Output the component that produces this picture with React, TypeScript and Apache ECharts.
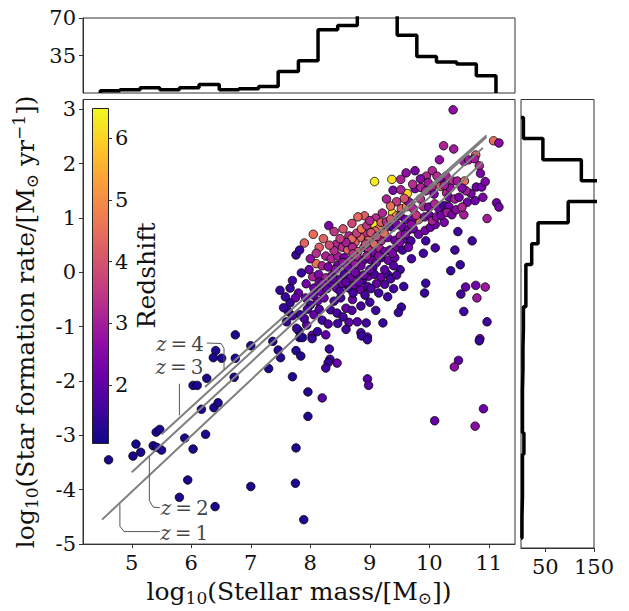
import React, { useEffect, useRef } from 'react';
import * as echarts from 'echarts';

const massTicks = [5, 6, 7, 8, 9, 10, 11];
const sfrTicks = [-5, -4, -3, -2, -1, 0, 1, 2, 3];
const redshiftTicks = [2, 3, 4, 5, 6];
const topHistTicks = [35, 70];
const sideHistTicks = [50, 150];

const massBinEdges = [4.47, 4.8, 5.14, 5.47, 5.8, 6.13, 6.47, 6.8, 7.13, 7.46, 7.8, 8.13, 8.46, 8.79, 9.13, 9.46, 9.79, 10.12, 10.46, 10.79, 11.12];
const massCounts = [2, 3, 5, 3, 5, 8, 3, 4, 6, 20, 30, 59, 63, 92, 105, 54, 34, 29, 27, 16];

const sfrBinEdges = [2.85, 2.47, 2.08, 1.7, 1.32, 0.93, 0.55, 0.17, -0.22, -0.6, -0.99, -1.37, -1.75, -2.14, -2.52, -2.9, -3.29, -3.67, -4.05, -4.44, -4.82];
const sfrCounts = [5, 45, 124, 190, 97, 35, 22, 10, 10, 5, 4, 4, 3, 3, 3, 6, 3, 3, 2, 2];

const zLabels = ['1', '2', '3', '4'];
const mainSequenceLines = [
  [[4.5, -4.55], [10.9, 2.03]],
  [[5.0, -3.68], [10.9, 2.29]],
  [[5.5, -2.98], [10.96, 2.49]],
  [[6.23, -2.11], [10.96, 2.52]],
];
const labelPositions = [
  [5.88, -4.79],
  [5.89, -4.34],
  [5.8, -1.75],
  [5.81, -1.32],
];
const connectors = [
  [[4.8, -4.27], [4.8, -4.67], [4.87, -4.77], [5.47, -4.77]],
  [[5.295, -3.39], [5.295, -4.2], [5.36, -4.32], [5.47, -4.33]],
  [[5.8, -2.05], [5.8, -2.63]],
  [[6.26, -1.3], [6.5, -1.31], [6.55, -1.4], [6.55, -1.79]],
];

// [log stellar mass, log SFR, redshift]
const galaxies = [
  [4.61, -3.45, 1.2], [5.02, -3.38, 1.2], [5.07, -3.16, 1.15], [5.15, -3.31, 1.2], [5.36, -3.19, 1.2], [5.42, -3.22, 1.2],
  [5.5, -3.27, 1.25], [5.41, -2.94, 1.2], [5.47, -2.89, 1.2], [5.89, -3.05, 1.2], [6.03, -3.25, 1.2], [6.24, -2.98, 1.2],
  [6.17, -2.52, 1.2], [6.38, -2.49, 1.2], [6.45, -2.4, 1.2], [6.03, -2.08, 1.2], [6.1, -2.08, 1.2], [6.26, -1.95, 1.2],
  [6.41, -1.44, 1.25], [6.37, -1.57, 1.2], [6.51, -1.58, 1.2], [6.74, -1.15, 1.2], [6.74, -1.58, 1.2], [6.72, -1.93, 1.2],
  [7.0, -1.35, 1.25], [7.37, -1.27, 1.3], [7.46, -1.43, 1.3], [7.5, -1.57, 1.3], [7.3, -1.77, 1.25], [5.94, -3.82, 1.2],
  [5.8, -4.14, 1.2], [6.4, -4.31, 1.2], [7.0, -3.94, 1.2],
  [7.81, -1.08, 1.3], [7.82, -1.2, 1.3], [7.87, -1.2, 1.3], [8.03, -1.16, 2.1], [7.76, -1.44, 1.3], [7.84, -1.54, 1.3],
  [7.7, -1.92, 1.3], [7.96, -2.2, 1.3], [7.96, -2.65, 1.3], [7.76, -3.23, 1.25], [7.75, -3.88, 1.25], [7.89, -4.55, 1.3],
  [8.32, -1.41, 1.5], [8.33, -1.6, 1.6], [8.3, -1.66, 1.5], [8.26, -1.76, 1.6], [8.45, -1.67, 2.1], [8.2, -2.31, 1.9],
  [8.85, -1.11, 1.9], [8.96, -1.19, 1.9], [8.96, -1.96, 1.9], [8.98, -2.08, 1.9], [10.85, -1.22, 2.2], [10.49, -1.62, 2.0],
  [10.42, -1.74, 2.7], [10.91, -2.51, 2.2], [10.09, -2.73, 2.1], [10.77, -2.83, 2.6],
  [10.4, 2.99, 2.7], [11.08, 2.42, 4.5], [11.17, 2.38, 2.6], [10.24, 2.33, 3.1], [10.41, 2.27, 3.0], [10.78, 2.16, 4.3],
  [10.17, 2.07, 2.7], [10.58, 2.04, 2.9], [10.66, 2.07, 2.9], [10.76, 2.09, 3.0], [10.84, 1.96, 3.2], [9.76, 1.87, 2.4],
  [9.61, 1.83, 2.7], [10.05, 1.87, 3.2], [9.08, 1.67, 6.3], [9.37, 1.71, 6.2], [9.52, 1.71, 3.1], [9.95, 1.77, 3.2],
  [10.13, 1.77, 3.3], [10.28, 1.77, 3.1], [10.19, 1.68, 2.4], [10.39, 1.68, 3.3], [10.47, 1.68, 3.0], [10.59, 1.68, 4.5],
  [10.86, 1.82, 2.4], [10.79, 1.57, 2.2], [10.88, 1.57, 2.3], [10.94, 1.67, 2.4], [9.63, 1.45, 6.0], [11.13, 1.28, 2.2],
  [11.17, 1.2, 2.3], [10.97, 0.99, 3.0], [10.58, 1.06, 3.0], [10.25, 0.92, 2.4], [10.48, 0.75, 1.6], [10.72, 0.58, 1.6],
  [10.43, 0.41, 1.6], [10.52, 0.14, 1.5], [10.36, 0.03, 1.5], [10.61, -0.27, 2.1], [10.78, -0.24, 2.3], [10.94, -0.27, 2.9],
  [10.53, -0.4, 1.6], [10.8, -0.47, 2.9], [10.58, -0.72, 1.6], [10.97, -0.91, 1.6], [9.94, -0.2, 1.5], [9.92, -0.38, 1.5],
  [9.57, -0.26, 1.5], [9.53, -0.64, 1.5], [9.48, -0.74, 1.5], [9.22, -0.93, 1.5], [8.94, -0.93, 1.6], [8.79, -0.91, 1.9],
  [8.65, -0.92, 2.0], [8.86, -1.17, 1.5], [8.96, -1.24, 1.5], [10.84, -1.26, 1.5],
  [9.39, 1.51, 2.4], [9.52, 1.52, 3.1], [9.76, 1.54, 2.3], [9.86, 1.56, 3.2], [9.94, 1.5, 3.1], [10.04, 1.56, 3.2],
  [10.08, 1.44, 2.4], [10.19, 1.58, 4.2], [10.29, 1.46, 3.2], [10.33, 1.38, 2.3], [10.43, 1.35, 3.1], [10.5, 1.38, 2.3],
  [10.64, 1.29, 2.3], [10.77, 1.32, 2.2], [10.9, 1.38, 2.4],
  [8.91, 1.04, 4.2], [9.1, 1.0, 3.3], [9.21, 1.09, 3.2], [9.38, 1.09, 6.2], [9.45, 1.04, 5.0], [9.53, 1.17, 4.3],
  [9.62, 1.21, 4.9], [9.68, 1.27, 4.3], [9.73, 1.17, 3.2], [9.82, 0.97, 4.9], [9.9, 1.21, 3.2], [9.99, 1.2, 2.4],
  [10.09, 1.26, 3.2], [10.16, 1.17, 2.3], [10.25, 1.23, 1.7], [10.33, 1.21, 2.3], [9.51, 1.04, 2.3], [9.6, 0.97, 2.2],
  [9.71, 0.97, 2.2],
  [8.31, 0.86, 2.4], [9.07, 0.88, 6.3], [9.15, 0.8, 5.0], [9.09, 0.76, 4.3], [9.19, 0.92, 4.2], [9.3, 0.84, 3.3],
  [9.38, 0.83, 1.7], [9.45, 0.88, 2.3], [9.55, 0.83, 2.2], [9.65, 0.78, 2.3], [9.73, 0.8, 2.2], [9.82, 0.7, 2.2],
  [9.93, 0.77, 2.3], [10.02, 0.83, 2.2], [10.1, 0.88, 2.2], [9.94, 0.58, 1.6], [8.91, 0.7, 3.3], [8.84, 0.64, 4.3],
  [8.75, 0.55, 4.2], [8.98, 0.59, 4.3], [9.08, 0.52, 4.4], [9.19, 0.58, 3.2], [9.3, 0.64, 2.3], [9.42, 0.59, 2.2],
  [9.51, 0.67, 3.0], [9.6, 0.61, 2.2], [9.69, 0.58, 1.7], [8.65, 0.67, 3.2],
  [7.9, 0.54, 4.3], [8.15, 0.46, 4.2], [8.43, 0.51, 3.2], [8.54, 0.46, 3.3], [8.63, 0.41, 4.2], [8.71, 0.46, 3.2],
  [8.8, 0.38, 4.3], [8.9, 0.46, 3.2], [8.98, 0.41, 3.3], [9.07, 0.36, 2.3], [9.17, 0.43, 3.1], [9.25, 0.38, 2.3],
  [9.34, 0.41, 2.2], [9.45, 0.46, 2.3], [9.55, 0.41, 1.7], [9.65, 0.46, 2.2], [7.76, 0.32, 1.5], [7.82, 0.41, 1.5],
  [8.26, 0.3, 3.1], [8.35, 0.25, 3.2], [8.46, 0.3, 3.0], [8.57, 0.27, 2.3], [8.68, 0.22, 3.1], [8.79, 0.28, 3.2],
  [8.88, 0.21, 2.2], [9.0, 0.24, 2.3], [9.11, 0.18, 2.2], [9.19, 0.27, 1.7], [9.31, 0.22, 2.2], [9.42, 0.27, 2.1],
  [8.1, 0.16, 4.6], [8.2, 0.12, 3.1], [8.46, 0.13, 2.3], [8.63, 0.08, 2.2], [8.85, 0.12, 2.2], [9.05, 0.08, 1.7],
  [9.51, 0.05, 1.6],
  [7.85, -0.01, 1.5], [7.93, -0.21, 2.2], [8.04, -0.08, 3.1], [8.14, -0.04, 2.4], [8.26, -0.1, 3.0], [8.37, -0.05, 2.3],
  [8.48, -0.13, 2.2], [8.57, -0.04, 1.7], [8.68, -0.1, 2.2], [8.79, -0.04, 2.3], [8.88, -0.13, 1.7], [8.98, -0.07, 2.2],
  [9.08, -0.04, 1.7], [9.19, -0.09, 2.2], [9.3, -0.04, 1.6], [8.34, -0.22, 2.2], [8.44, -0.29, 2.1], [8.54, -0.21, 2.2],
  [8.65, -0.29, 1.7], [8.74, -0.24, 2.1], [8.85, -0.32, 2.2], [8.96, -0.26, 1.7], [8.06, -0.29, 2.2], [8.17, -0.35, 2.1],
  [7.8, -0.38, 2.1], [7.66, -0.29, 1.5], [7.49, -0.33, 1.5], [9.11, -0.21, 2.1],
  [7.66, -0.56, 1.5], [7.75, -0.47, 2.1], [7.92, -0.47, 2.1], [8.0, -0.6, 1.6], [8.12, -0.53, 2.1], [8.23, -0.47, 2.2],
  [8.4, -0.53, 1.7], [8.51, -0.47, 1.7], [8.6, -0.66, 2.1], [8.34, -0.69, 1.6], [8.71, -0.5, 2.1], [7.63, -0.72, 1.5],
  [7.83, -0.78, 1.5], [8.06, -0.78, 2.0], [8.2, -0.88, 1.6], [7.6, -0.91, 1.5], [7.77, -1.03, 1.5], [7.94, -0.97, 2.0],
  [8.12, -1.09, 1.5], [8.46, -0.94, 1.6], [8.03, -1.22, 1.5], [8.26, -1.15, 2.0],
  [8.7, 0.62, 4.4], [8.78, 0.72, 3.6], [8.86, 0.8, 4.6], [8.95, 0.86, 3.4], [9.02, 0.73, 4.0], [9.12, 0.66, 3.6],
  [9.24, 0.72, 4.5], [9.28, 0.93, 3.3], [9.35, 0.98, 4.1], [9.0, 0.95, 3.2], [8.93, 0.52, 3.8], [8.72, 0.34, 3.4],
  [8.6, 0.55, 3.0], [8.5, 0.62, 3.6], [8.4, 0.4, 3.3], [8.55, 0.18, 2.7], [8.75, 0.15, 2.8], [8.95, 0.3, 2.9],
  [9.15, 0.3, 2.6], [9.38, 0.35, 2.4], [9.5, 0.55, 2.5], [9.6, 0.7, 2.4], [9.7, 0.88, 2.6], [9.78, 1.05, 3.5],
  [9.85, 1.35, 3.4], [9.92, 1.02, 2.5], [10.0, 1.05, 2.2], [10.05, 0.95, 3.1], [10.12, 1.02, 2.6], [10.2, 1.05, 2.3],
  [10.3, 1.1, 3.0], [10.38, 1.06, 2.4], [10.45, 1.15, 2.6], [10.55, 1.2, 3.2], [10.7, 1.45, 2.4], [10.62, 1.5, 3.0],
  [10.55, 1.55, 2.5], [10.35, 1.55, 2.8], [10.25, 1.6, 3.0], [9.98, 1.65, 2.9], [9.85, 1.72, 2.5], [9.72, 1.62, 3.3],
  [9.65, 1.3, 2.7], [9.58, 1.36, 4.0], [9.45, 1.3, 3.5], [9.35, 1.22, 4.5], [9.28, 1.35, 3.1],
  [8.05, -0.42, 2.0], [8.15, -0.18, 2.4], [8.28, -0.3, 1.9], [8.38, -0.12, 2.0], [8.5, -0.35, 1.8], [8.6, -0.18, 2.0],
  [8.72, -0.38, 1.7], [8.82, -0.18, 2.0], [8.92, -0.42, 1.6], [9.02, -0.3, 1.8], [9.15, -0.38, 1.6], [9.25, -0.22, 1.8],
  [9.35, -0.12, 1.7], [9.45, -0.05, 1.8], [9.4, 0.12, 1.9], [9.25, 0.05, 2.0], [9.0, 0.05, 2.1], [8.75, 0.0, 2.3],
  [8.9, -0.05, 2.2], [8.42, 0.05, 2.6], [8.3, 0.1, 2.4], [8.2, -0.2, 2.3], [7.98, 0.05, 2.2], [8.0, 0.25, 2.7],
  [8.1, 0.35, 3.3], [8.32, 0.5, 3.8], [8.22, 0.62, 4.3], [8.05, 0.7, 4.5], [8.4, 0.75, 3.5], [8.55, 0.8, 4.0],
  [8.7, 0.9, 3.8], [8.8, 1.02, 4.4], [7.95, -0.68, 1.7], [8.15, -0.68, 1.8], [8.45, -0.75, 1.7], [8.55, -0.82, 1.6],
  [8.7, -0.7, 1.8], [8.85, -0.62, 1.7], [9.0, -0.55, 1.6], [9.1, -0.7, 1.6], [9.3, -0.45, 1.6], [9.4, -0.3, 1.6],
  [9.7, 0.25, 1.7], [9.9, 0.35, 1.6], [10.1, 0.45, 1.7], [7.7, -0.15, 1.6], [7.58, -0.45, 1.5], [7.7, -0.8, 1.6],
  [7.9, -0.85, 1.7], [8.3, -0.95, 1.8], [8.6, -1.05, 1.6], [7.55, -0.65, 1.5],
];

const plasma = ['#0d0887', '#41049d', '#6a00a8', '#8f0da4', '#b12a90', '#cc4778', '#e16462', '#f2844b', '#fca636', '#fcce25', '#f0f921'];

const FONT = 'DejaVu Serif';
const FRAME = '#333333';
const TEXT = '#111111';
const Z_MIN = 1.06;
const Z_MAX = 6.49;

function stepHorizontal(edges: number[], counts: number[]) {
  const pts: number[][] = [[edges[0], 0]];
  counts.forEach((c, i) => {
    pts.push([edges[i], c]);
    pts.push([edges[i + 1], c]);
  });
  pts.push([edges[edges.length - 1], 0]);
  return pts;
}

function stepVertical(edges: number[], counts: number[]) {
  const pts: number[][] = [[0, edges[0]]];
  counts.forEach((c, i) => {
    pts.push([c, edges[i]]);
    pts.push([c, edges[i + 1]]);
  });
  pts.push([0, edges[edges.length - 1]]);
  return pts;
}

export default function App() {
  const ref = useRef<HTMLDivElement>(null);

  useEffect(() => {
    if (!ref.current) return;
    const chart = echarts.init(ref.current, null, { renderer: 'svg' });

    const tickStyle = { color: TEXT, fontFamily: FONT, fontSize: 21 };
    const hiddenAxis = { axisLine: { show: false, onZero: false }, axisTick: { show: false }, axisLabel: { show: false }, splitLine: { show: false } };
    const titleRich = {
      n: { fontFamily: FONT, fontSize: 25, color: TEXT, lineHeight: 30 },
      s: { fontFamily: FONT, fontSize: 17, color: TEXT, lineHeight: 30, verticalAlign: 'bottom', padding: [11, 0, 0, 0] },
      m: { fontFamily: FONT, fontSize: 17, color: TEXT, lineHeight: 30, verticalAlign: 'bottom', padding: [11, 0, 0, 0] },
      p: { fontFamily: FONT, fontSize: 17, color: TEXT, lineHeight: 30, verticalAlign: 'top', padding: [0, 0, 11, 0] },
    };

    const grids = [
      { left: 83, top: 99.5, width: 432, height: 448.5 },
      { left: 83, top: 18, width: 432, height: 75 },
      { left: 521, top: 99.5, width: 73, height: 448.5 },
      { left: 92, top: 108, width: 16, height: 335 },
    ].map((g, i) => ({ ...g, show: i < 3, borderColor: FRAME, borderWidth: 1, containLabel: false }));

    const option: any = {
      animation: false,
      backgroundColor: '#ffffff',
      grid: grids,
      xAxis: [
        {
          gridIndex: 0, type: 'value', min: 4.18, max: 11.44,
          axisLine: { show: true, onZero: false, lineStyle: { color: FRAME } },
          axisTick: { show: true, length: 4, customValues: massTicks, lineStyle: { color: FRAME } },
          axisLabel: { ...tickStyle, margin: 8, customValues: massTicks, formatter: (v: number) => String(v) },
          splitLine: { show: false },
          name: '{n|log}{s|10}{n|(Stellar mass/[M}{m|⊙}{n|])}',
          nameLocation: 'middle', nameGap: 30,
          nameTextStyle: { rich: titleRich },
        },
        { gridIndex: 1, type: 'value', min: 4.18, max: 11.44, ...hiddenAxis },
        {
          gridIndex: 2, type: 'value', min: 0, max: 150,
          axisLine: { show: true, onZero: false, lineStyle: { color: FRAME } },
          axisTick: { show: true, length: 4, customValues: sideHistTicks, lineStyle: { color: FRAME } },
          axisLabel: { ...tickStyle, margin: 8, customValues: sideHistTicks },
          splitLine: { show: false },
        },
        { gridIndex: 3, type: 'value', min: 0, max: 1, ...hiddenAxis },
      ],
      yAxis: [
        {
          gridIndex: 0, type: 'value', min: -5, max: 3.18,
          axisLine: { show: true, onZero: false, lineStyle: { color: FRAME } },
          axisTick: { show: true, length: 4, customValues: sfrTicks, lineStyle: { color: FRAME } },
          axisLabel: { ...tickStyle, margin: 7, customValues: sfrTicks, formatter: (v: number) => String(v) },
          splitLine: { show: false },
          name: '{n|log}{s|10}{n|(Star formation rate/[M}{m|⊙}{n| yr}{p|−1}{n|])}',
          nameLocation: 'middle', nameGap: 43, nameRotate: 90,
          nameTextStyle: { rich: titleRich },
        },
        {
          gridIndex: 1, type: 'value', min: 0, max: 70,
          axisLine: { show: true, onZero: false, lineStyle: { color: FRAME } },
          axisTick: { show: true, length: 4, customValues: topHistTicks, lineStyle: { color: FRAME } },
          axisLabel: { ...tickStyle, margin: 7, customValues: topHistTicks },
          splitLine: { show: false },
        },
        { gridIndex: 2, type: 'value', min: -5, max: 3.18, ...hiddenAxis },
        {
          gridIndex: 3, type: 'value', min: Z_MIN, max: Z_MAX, position: 'right',
          axisLine: { show: false, onZero: false },
          axisTick: { show: true, length: 4, customValues: redshiftTicks, lineStyle: { color: FRAME } },
          axisLabel: { ...tickStyle, margin: 7, customValues: redshiftTicks },
          splitLine: { show: false },
          name: 'Redshift', nameLocation: 'middle', nameGap: 26, nameRotate: 90,
          nameTextStyle: { fontFamily: FONT, fontSize: 25, color: TEXT },
        },
      ],
      visualMap: {
        type: 'continuous', show: false, seriesIndex: 0, dimension: 2,
        min: Z_MIN, max: Z_MAX, inRange: { color: plasma },
      },
      series: [
        {
          type: 'scatter', xAxisIndex: 0, yAxisIndex: 0, data: galaxies,
          symbolSize: 8.5,
          itemStyle: { borderColor: '#000', borderWidth: 0.8, opacity: 1 },
          z: 2,
        },
        ...mainSequenceLines.map((pts) => ({
          type: 'line', xAxisIndex: 0, yAxisIndex: 0, data: pts, symbol: 'none',
          lineStyle: { color: '#7f7f7f', width: 2 }, z: 3, silent: true,
        })),
        ...connectors.map((pts) => ({
          type: 'line', xAxisIndex: 0, yAxisIndex: 0, data: pts, symbol: 'none',
          lineStyle: { color: '#555', width: 1 }, z: 3, silent: true,
        })),
        {
          type: 'scatter', xAxisIndex: 0, yAxisIndex: 0, symbolSize: 0, z: 4, silent: true,
          data: labelPositions.map((p, i) => ({ value: p, name: zLabels[i] })),
          label: {
            show: true, position: 'inside',
            formatter: (p: any) => `{i|z}{n|\u2009=\u2009${p.name}}`,
            rich: {
              i: { fontFamily: FONT, fontStyle: 'italic', fontSize: 20, color: TEXT },
              n: { fontFamily: FONT, fontSize: 20, color: TEXT },
            },
          },
        },
        {
          type: 'line', xAxisIndex: 1, yAxisIndex: 1, data: stepHorizontal(massBinEdges, massCounts),
          symbol: 'none', lineStyle: { color: '#000', width: 3.5 }, clip: true,
        },
        {
          type: 'line', xAxisIndex: 2, yAxisIndex: 2, data: stepVertical(sfrBinEdges, sfrCounts),
          symbol: 'none', lineStyle: { color: '#000', width: 3.5 }, clip: true,
        },
      ],
      graphic: [
        {
          type: 'rect', left: 92, top: 108, z: 10,
          shape: { width: 16, height: 335 },
          style: {
            fill: new echarts.graphic.LinearGradient(0, 1, 0, 0, plasma.map((c, i) => ({ offset: i / (plasma.length - 1), color: c }))),
            stroke: '#222', lineWidth: 1,
          },
        },
      ],
    };

    chart.setOption(option);
    return () => chart.dispose();
  }, []);

  return <div ref={ref} style={{ position: 'fixed', left: 0, top: 0, width: 629, height: 611 }} />;
}
